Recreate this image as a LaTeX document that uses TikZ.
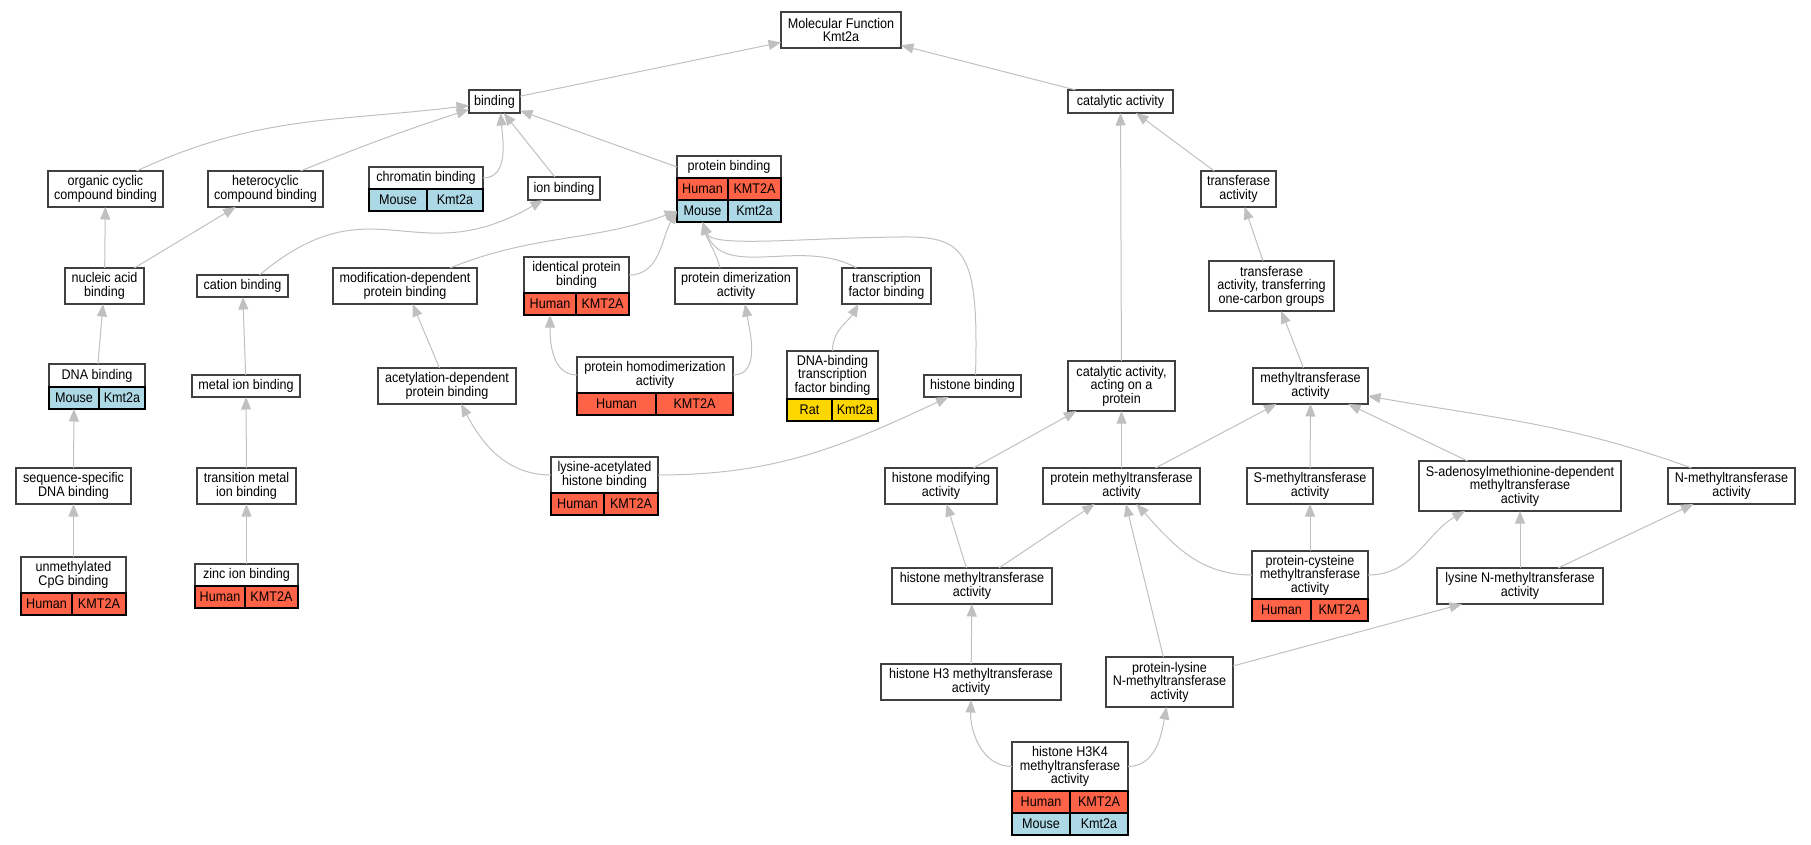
\documentclass[tikz,border=0pt]{standalone}
\usepackage{fontspec}
\setmainfont{Liberation Sans}[FakeStretch=0.9]
\usetikzlibrary{arrows.meta}
\definecolor{human}{HTML}{FF6347}
\definecolor{mouse}{HTML}{ADD8E6}
\definecolor{rat}{HTML}{FFD700}
\definecolor{edgegray}{HTML}{C0C0C0}
\newcommand{\gofont}{\fontsize{14}{13.5}\selectfont}
\tikzset{
  term/.style={draw=black!75, line width=1.1pt, fill=white, align=center, inner sep=1pt, outer sep=0pt, font=\gofont},
  cell/.style={draw=black, line width=1.1pt, inner sep=0pt, outer sep=0pt, minimum height=22pt, font=\gofont},
  hs/.style={cell, fill=human},
  mm/.style={cell, fill=mouse},
  rn/.style={cell, fill=rat},
  isa/.style={draw=edgegray, line width=1pt, -{Triangle[length=12.5pt,width=10pt]}}
}
\begin{document}
\begin{tikzpicture}[x=1pt, y=-1pt]
  \useasboundingbox (0,0) rectangle (1811,845);
  \node[term, minimum width=120, minimum height=36] (mf) at (841,30) {Molecular Function\\Kmt2a};
  \node[term, minimum width=51, minimum height=23] (bind) at (494.5,101.5) {binding};
  \node[term, minimum width=105, minimum height=23] (cat) at (1120.5,101.5) {catalytic activity};
  \node[term, minimum width=115, minimum height=36] (occ) at (105.5,189) {organic cyclic\\compound binding};
  \node[term, minimum width=115, minimum height=36] (het) at (265.5,189) {heterocyclic\\compound binding};
  \node[term, minimum width=114, minimum height=22] (chr) at (426,178) {chromatin binding};
  \node[mm, minimum width=58, anchor=north west] (chrM) at (chr.south west) {Mouse};
  \node[mm, minimum width=56, anchor=north east] (chrK) at (chr.south east) {Kmt2a};
  \node[term, minimum width=72, minimum height=23] (ion) at (564,188.5) {ion binding};
  \node[term, minimum width=104, minimum height=22] (pb) at (729,167) {protein binding};
  \node[hs, minimum width=51, anchor=north west] (pbH1) at (pb.south west) {Human};
  \node[hs, minimum width=53, anchor=north east] (pbH2) at (pb.south east) {KMT2A};
  \node[mm, minimum width=51, anchor=north west] (pbM1) at (pbH1.south west) {Mouse};
  \node[mm, minimum width=53, anchor=north east] (pbM2) at (pbH2.south east) {Kmt2a};
  \node[term, minimum width=75, minimum height=36] (ta) at (1238.5,189) {transferase\\activity};
  \node[term, minimum width=79, minimum height=36] (nab) at (104.5,286) {nucleic acid\\binding};
  \node[term, minimum width=91, minimum height=22] (cab) at (242.5,286) {cation binding};
  \node[term, minimum width=144, minimum height=36] (mdpb) at (405,286) {modification-dependent\\protein binding};
  \node[term, minimum width=105, minimum height=36] (ipb) at (576.5,275) {identical protein\\binding};
  \node[hs, minimum width=52, anchor=north west] (ipbH1) at (ipb.south west) {Human};
  \node[hs, minimum width=53, anchor=north east] (ipbH2) at (ipb.south east) {KMT2A};
  \node[term, minimum width=122, minimum height=36] (pda) at (736,286) {protein dimerization\\activity};
  \node[term, minimum width=89, minimum height=36] (tfb) at (886.5,286) {transcription\\factor binding};
  \node[term, minimum width=125, minimum height=50] (toc) at (1271.5,286) {transferase\\activity, transferring\\one-carbon groups};
  \node[term, minimum width=96, minimum height=23] (dnab) at (97,375.5) {DNA binding};
  \node[mm, minimum width=50, anchor=north west] (dnabM) at (dnab.south west) {Mouse};
  \node[mm, minimum width=46, anchor=north east] (dnabK) at (dnab.south east) {Kmt2a};
  \node[term, minimum width=108, minimum height=22] (mib) at (246,386) {metal ion binding};
  \node[term, minimum width=138, minimum height=36] (adpb) at (447,386) {acetylation-dependent\\protein binding};
  \node[term, minimum width=156, minimum height=36] (phda) at (655,375) {protein homodimerization\\activity};
  \node[hs, minimum width=79, anchor=north west] (phdaH1) at (phda.south west) {Human};
  \node[hs, minimum width=77, anchor=north east] (phdaH2) at (phda.south east) {KMT2A};
  \node[term, minimum width=91, minimum height=48] (dbtf) at (832.5,375) {DNA-binding\\transcription\\factor binding};
  \node[rn, minimum width=45, anchor=north west] (dbtfR1) at (dbtf.south west) {Rat};
  \node[rn, minimum width=46, anchor=north east] (dbtfR2) at (dbtf.south east) {Kmt2a};
  \node[term, minimum width=97, minimum height=22] (hb) at (972.5,386) {histone binding};
  \node[term, minimum width=107, minimum height=50] (cap) at (1121.5,386) {catalytic activity,\\acting on a\\protein};
  \node[term, minimum width=115, minimum height=36] (mta) at (1310.5,386) {methyltransferase\\activity};
  \node[term, minimum width=115, minimum height=36] (ssd) at (73.5,486) {sequence-specific\\DNA binding};
  \node[term, minimum width=99, minimum height=36] (tmib) at (246.5,486) {transition metal\\ion binding};
  \node[term, minimum width=107, minimum height=36] (lahb) at (604.5,475) {lysine-acetylated\\histone binding};
  \node[hs, minimum width=53, anchor=north west] (lahbH1) at (lahb.south west) {Human};
  \node[hs, minimum width=54, anchor=north east] (lahbH2) at (lahb.south east) {KMT2A};
  \node[term, minimum width=112, minimum height=36] (hma) at (941,486) {histone modifying\\activity};
  \node[term, minimum width=157, minimum height=36] (pma) at (1121.5,486) {protein methyltransferase\\activity};
  \node[term, minimum width=126, minimum height=36] (sma) at (1310,486) {S-methyltransferase\\activity};
  \node[term, minimum width=202, minimum height=50] (sam) at (1520,486) {S-adenosylmethionine-dependent\\methyltransferase\\activity};
  \node[term, minimum width=127, minimum height=36] (nma) at (1731.5,486) {N-methyltransferase\\activity};
  \node[term, minimum width=105, minimum height=36] (ucb) at (73.5,575) {unmethylated\\CpG binding};
  \node[hs, minimum width=51, anchor=north west] (ucbH1) at (ucb.south west) {Human};
  \node[hs, minimum width=54, anchor=north east] (ucbH2) at (ucb.south east) {KMT2A};
  \node[term, minimum width=103, minimum height=22] (zib) at (246.5,575) {zinc ion binding};
  \node[hs, minimum width=50, anchor=north west] (zibH1) at (zib.south west) {Human};
  \node[hs, minimum width=53, anchor=north east] (zibH2) at (zib.south east) {KMT2A};
  \node[term, minimum width=160, minimum height=36] (hmt) at (972,586) {histone methyltransferase\\activity};
  \node[term, minimum width=116, minimum height=48] (pcm) at (1310,575) {protein-cysteine\\methyltransferase\\activity};
  \node[hs, minimum width=59, anchor=north west] (pcmH1) at (pcm.south west) {Human};
  \node[hs, minimum width=57, anchor=north east] (pcmH2) at (pcm.south east) {KMT2A};
  \node[term, minimum width=166, minimum height=36] (lnm) at (1520,586) {lysine N-methyltransferase\\activity};
  \node[term, minimum width=180, minimum height=36] (h3) at (971,682) {histone H3 methyltransferase\\activity};
  \node[term, minimum width=127, minimum height=50] (plk) at (1169.5,682) {protein-lysine\\N-methyltransferase\\activity};
  \node[term, minimum width=116, minimum height=49] (h3k4) at (1070,766.5) {histone H3K4\\methyltransferase\\activity};
  \node[hs, minimum width=58, anchor=north west] (h3k4H1) at (h3k4.south west) {Human};
  \node[hs, minimum width=58, anchor=north east] (h3k4H2) at (h3k4.south east) {KMT2A};
  \node[mm, minimum width=58, anchor=north west] (h3k4M1) at (h3k4H1.south west) {Mouse};
  \node[mm, minimum width=58, anchor=north east] (h3k4M2) at (h3k4H2.south east) {Kmt2a};
  \coordinate (hbbend) at (900,237);

  \draw[isa] (bind) -- (mf);
  \draw[isa] (cat) -- (mf);
  \draw[isa] ([xshift=31]occ.north) to[out=25,in=187] ([yshift=-4]bind.west);
  \draw[isa] ([xshift=35]het.north) to[out=22,in=198] ([yshift=-8]bind.west);
  \draw[isa] (chr.east) to[out=0,in=-85] ([xshift=6]bind.south);
  \draw[isa] (ion) -- (bind);
  \draw[isa] (pb.west) -- (bind);
  \draw[isa] (nab) -- (occ);
  \draw[isa] (nab) -- (het);
  \draw[isa] (dnab) -- (nab);
  \draw[isa] (ssd) -- (dnabM);
  \draw[isa] (ucb) -- (ssd);
  \draw[isa] ([xshift=17]cab.north) to[out=40,in=210, looseness=1.3] ([xshift=-21]ion.south);
  \draw[isa] (mib) -- (cab);
  \draw[isa] (tmib) -- (mib);
  \draw[isa] (zib) -- (tmib);
  \draw[isa] ([xshift=45]mdpb.north) to[out=22,in=200] (pbM1.west);
  \draw[isa] (ipb.east) to[out=0,in=240] (pbM1.west);
  \draw[isa] ([xshift=-16]pda.north) to[out=105,in=-75] (pbM1.south);
  \draw[isa] ([xshift=-30]tfb.north) to[out=150,in=-70] (pbM1.south);
  \draw[isa] ([xshift=3]hb.north) .. controls (979,250) and (965,236) .. (hbbend)
                                  .. controls (800,238) and (712,248) .. (pbM1.south);
  \draw[isa] (lahb.west) to[out=180,in=-62] ([xshift=14]adpb.south);
  \draw[isa] (lahb.east) to[out=0,in=205] ([xshift=-24]hb.south);
  \draw[isa] (adpb) -- (mdpb);
  \draw[isa] (phda.west) to[out=180,in=-90] (ipbH1.south);
  \draw[isa] (phda.east) to[out=0,in=-80] ([xshift=9]pda.south);
  \draw[isa] (dbtf.north) to[out=90,in=-120] ([xshift=-28]tfb.south);
  \draw[isa] (cap) -- (cat);
  \draw[isa] (ta) -- (cat);
  \draw[isa] (toc) -- (ta);
  \draw[isa] (mta) -- (toc);
  \draw[isa] (hma) -- (cap);
  \draw[isa] (pma) -- (cap);
  \draw[isa] (pma) -- (mta);
  \draw[isa] (sma) -- (mta);
  \draw[isa] (sam) -- (mta);
  \draw[isa] ([xshift=-40]nma.north) to[out=160,in=-10] ([yshift=-10]mta.east);
  \draw[isa] (hmt) -- (hma);
  \draw[isa] (hmt) -- (pma);
  \draw[isa] (h3) -- (hmt);
  \draw[isa] (h3k4.west) to[out=180,in=-92] (h3.south);
  \draw[isa] (h3k4.east) to[out=0,in=-100] ([xshift=-3]plk.south);
  \draw[isa] (plk) -- (pma);
  \draw[isa] ([yshift=16]plk.east) -- ([xshift=-58]lnm.south);
  \draw[isa] (pcm.west) to[out=180,in=-48] ([xshift=15]pma.south);
  \draw[isa] (pcm) -- (sma);
  \draw[isa] (pcm.east) to[out=0,in=-150] ([xshift=-55]sam.south);
  \draw[isa] (lnm) -- (sam);
  \draw[isa] (lnm) -- (nma);
\end{tikzpicture}
\end{document}
